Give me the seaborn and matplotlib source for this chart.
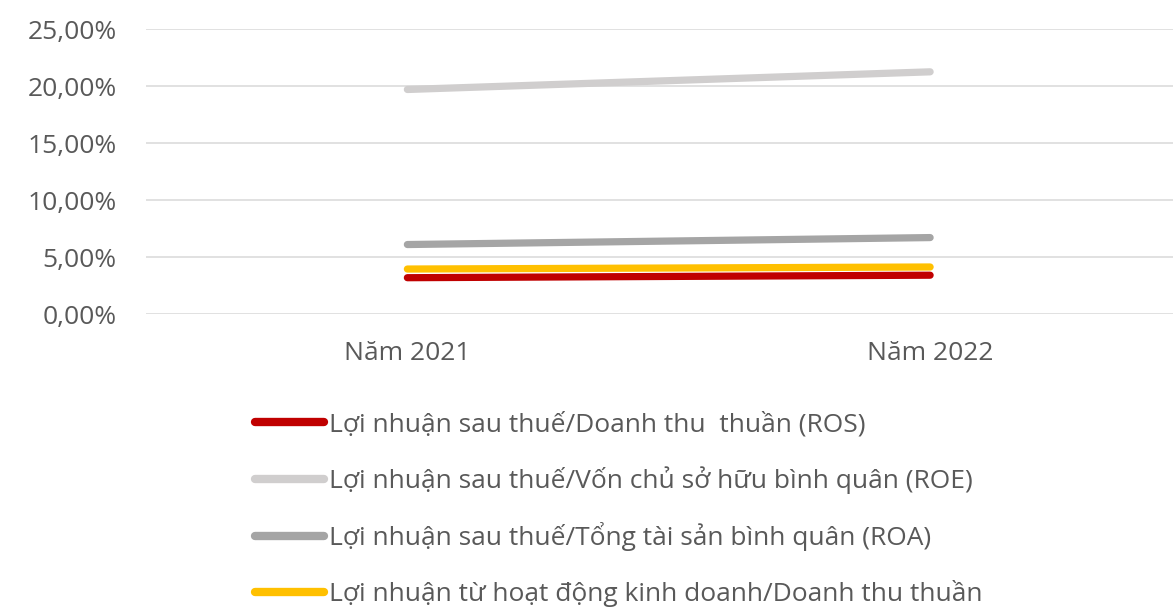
import pandas as pd
import seaborn as sns
import matplotlib.pyplot as plt
from matplotlib.ticker import FuncFormatter

# Data (in %)
years = ['Năm 2021', 'Năm 2022']
ros = [3.21, 3.43]
roe = [19.72, 21.27]
roa = [6.12, 6.73]
op_margin = [3.97, 4.15]

series_names = [
    'Lợi nhuận sau thuế/Doanh thu  thuần (ROS)',
    'Lợi nhuận sau thuế/Vốn chủ sở hữu bình quân (ROE)',
    'Lợi nhuận sau thuế/Tổng tài sản bình quân (ROA)',
    'Lợi nhuận từ hoạt động kinh doanh/Doanh thu thuần',
]
series_colors = ['#C00000', '#D0CECE', '#A5A5A5', '#FFC000']

# Long format table for seaborn
rows = []
for name, vals in zip(series_names, [ros, roe, roa, op_margin]):
    for year, v in zip(years, vals):
        rows.append({'year': year, 'value': v, 'series': name})
df = pd.DataFrame(rows)

sns.set_theme(style='white')
plt.rcParams['font.family'] = ['Open Sans', 'Noto Sans', 'DejaVu Sans']

fig = plt.figure(figsize=(11.73, 6.07), dpi=100)
ax = fig.add_axes([146 / 1173, 1 - 314.3 / 607, (1191.5 - 146) / 1173, 285 / 607])

sns.lineplot(data=df, x='year', y='value', hue='series', hue_order=series_names,
             palette=dict(zip(series_names, series_colors)), linewidth=5.2,
             solid_capstyle='round', sort=False, ax=ax)

ax.set_xlim(-0.5, 1.5)
ax.set_ylim(0, 25)
ax.set_yticks([0, 5, 10, 15, 20, 25])
ax.yaxis.set_major_formatter(FuncFormatter(lambda v, p: f'{v:.2f}%'.replace('.', ',')))
ax.grid(axis='y', color='#D9D9D9', linewidth=1.1)
ax.grid(axis='x', visible=False)
for s in ax.spines.values():
    s.set_visible(False)
ax.tick_params(axis='y', length=0, pad=21, labelsize=19, labelcolor='#595959')
ax.tick_params(axis='x', length=0, pad=19, labelsize=19, labelcolor='#595959')
ax.set_xlabel('')
ax.set_ylabel('')

# Legend below the plot
handles, labels = ax.get_legend_handles_labels()
ax.get_legend().remove()
for h in handles:
    h.set_linewidth(6)
    h.set_solid_capstyle('round')
fig.legend(handles, labels, loc='upper left', bbox_to_anchor=(255 / 1173, 1 - 412 / 607),
           frameon=False, fontsize=19, labelcolor='#595959', handlelength=2.6,
           handletextpad=0.2, labelspacing=1.08, borderpad=0, borderaxespad=0)

plt.savefig('out.png', dpi=100)
